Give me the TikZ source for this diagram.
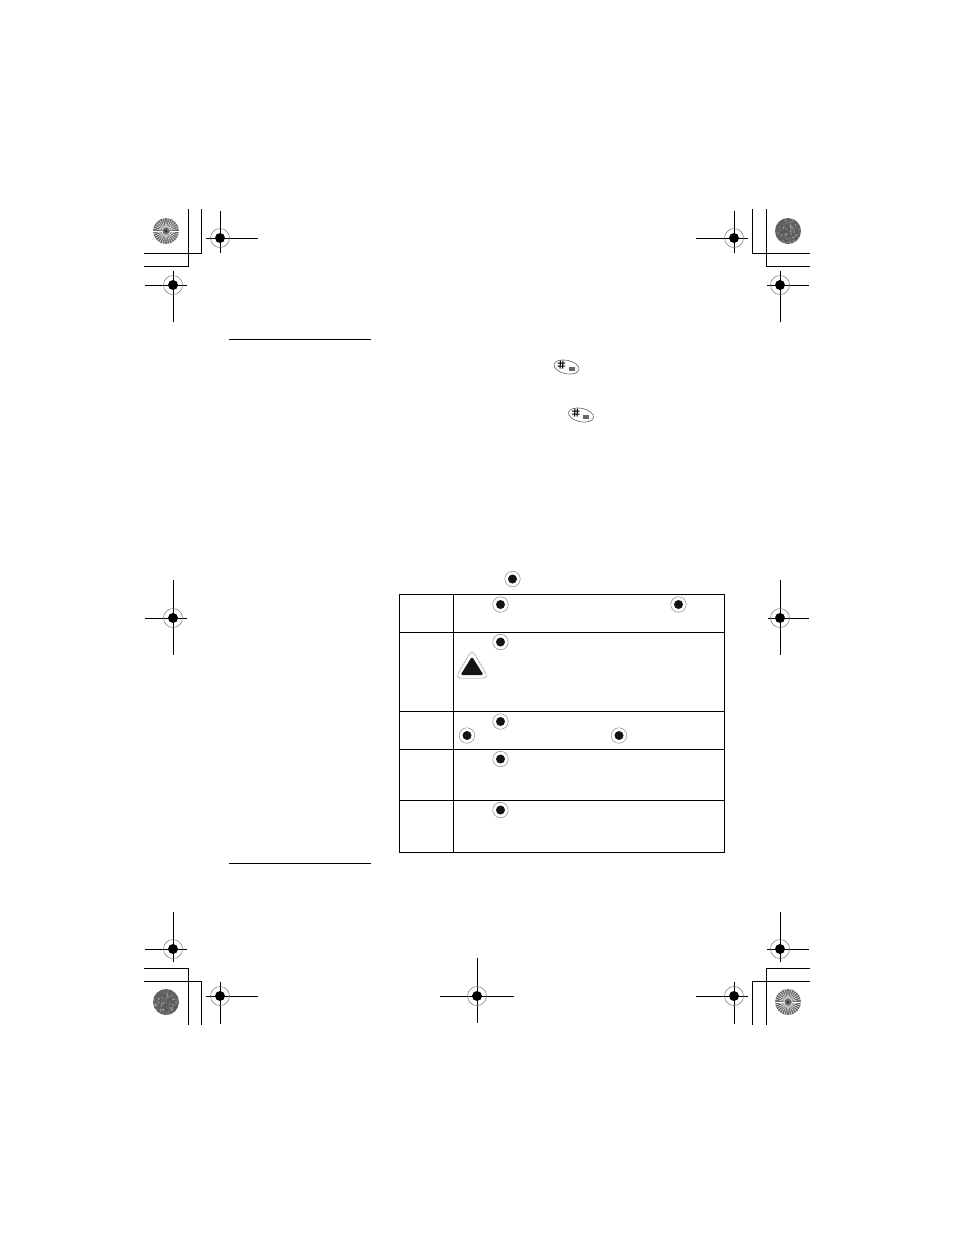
\documentclass[tikz,border=0pt]{standalone}
\usetikzlibrary{shapes.geometric}
\begin{document}
\begin{tikzpicture}[x=1pt,y=-1pt,line width=1pt]
\tikzset{
 rule/.style={line width=1pt,black},
 tbl/.style={line width=1pt,black},
 pic1/.style={line width=1pt,black}}
\pgfmathsetseed{7}
\newcommand{\regmark}[7]{% cx cy x0 x1 y0 y1 name
 \draw[line width=0.9pt] (#3,#2) -- (#4,#2) (#1,#5) -- (#1,#6);
 \node[circle,draw=black!55,line width=0.5pt,minimum size=19pt,inner sep=0pt] (#7) at (#1,#2) {};
 \fill[black] (#1,#2) circle (5pt);
}
\newcommand{\spoked}[3]{% cx cy name
 \node[circle,fill=black!58,minimum size=26pt,inner sep=0pt] (#3) at (#1,#2) {};
 \foreach \a in {0,12,...,348}{\draw[white,line width=0.4pt] (#1,#2) ++(\a:3.5) -- ++(\a:9.5);}
 \fill[black!80] (#1,#2) circle (1.5pt);
}
\newcommand{\darkdisc}[3]{%
 \node[circle,fill=black!62,minimum size=26pt,inner sep=0pt] (#3) at (#1,#2) {};
 \foreach \i in {1,...,90}{%
  \pgfmathsetmacro{\ra}{360*rnd}\pgfmathsetmacro{\rb}{12*sqrt(rnd)}\pgfmathsetmacro{\rc}{int(30+45*rnd)}%
  \fill[black!\rc] (#1,#2) ++(\ra:\rb) circle (0.8pt);}
}
\newcommand{\keyc}[3]{%
 \node[circle,draw=black!45,line width=0.5pt,minimum size=15.5pt,inner sep=0pt] (#3) at (#1,#2) {};
 \fill[black!92] (#1,#2) circle (4.5pt);
}
\newcommand{\hashkey}[3]{%
 \node[ellipse,draw=black!70,line width=0.5pt,minimum width=25.5pt,minimum height=13.5pt,inner sep=0pt,rotate=-12] (#3) at (#1,#2) {};
 \draw[line width=1pt] (#1-6,#2-6.5) -- (#1-6.5,#2+1.5) (#1-3.5,#2-6.5) -- (#1-4,#2+1.5)
   (#1-9,#2-3.8) -- (#1-1.5,#2-3.8) (#1-9,#2-1) -- (#1-1.5,#2-1);
 \fill[black!60] (#1+2,#2+0.2) rectangle (#1+8,#2+4.4);
}
\useasboundingbox (0,0) rectangle (954,1235);
\fill[white] (0,0) rectangle (954,1235);
% crop lines
\draw[pic1] (188,209) -- (188,266) -- (144,266);
\draw[pic1] (201,209) -- (201,253) -- (144,253);
\draw[pic1] (752,209) -- (752,253) -- (810,253);
\draw[pic1] (766,209) -- (766,266) -- (810,266);
\draw[pic1] (144,968) -- (188,968) -- (188,1025);
\draw[pic1] (144,981) -- (201,981) -- (201,1025);
\draw[pic1] (810,968) -- (766,968) -- (766,1025);
\draw[pic1] (810,981) -- (752,981) -- (752,1025);
% discs
\spoked{166}{231}{d1}
\darkdisc{788}{231}{d2}
\darkdisc{166}{1002}{d3}
\spoked{788}{1002}{d4}
% registration marks
\regmark{220}{238}{206}{258}{211}{253}{r1}
\regmark{173}{285}{145}{187}{271}{322}{r2}
\regmark{734}{238}{696}{748}{211}{253}{r3}
\regmark{780}{285}{767}{809}{271}{322}{r4}
\regmark{173}{618}{145}{187}{580}{655}{r5}
\regmark{780}{618}{768}{809}{580}{655}{r6}
\regmark{173}{949}{145}{187}{912}{962}{r7}
\regmark{780}{949}{767}{809}{912}{962}{r8}
\regmark{220}{996}{206}{258}{982}{1024}{r9}
\regmark{477}{996}{440}{514}{958}{1023}{r10}
\regmark{734}{996}{696}{748}{982}{1024}{r11}
% rules
\draw[rule] (229,339) -- (371,339);
\draw[rule] (229,863) -- (371,863);
% hash keys
\hashkey{566.5}{367}{h1}
\hashkey{581}{415}{h2}
% table
\draw[tbl] (399.5,594.5) rectangle (724.5,852.5);
\draw[tbl] (453.5,594.5) -- (453.5,852.5);
\foreach \yy in {632.5,711.5,749.5,800.5}{\draw[tbl] (399.5,\yy) -- (724.5,\yy);}
% keys
\keyc{512.5}{579}{k1}
\keyc{500.5}{604.5}{k2}
\keyc{678.5}{604.5}{k3}
\keyc{500.5}{642}{k4}
\keyc{500.5}{721.5}{k5}
\keyc{467}{735.5}{k6}
\keyc{619}{735.5}{k7}
\keyc{500.5}{759}{k8}
\keyc{500.5}{810}{k9}
% warning triangle
\draw[black!40,line width=0.5pt,rounded corners=5pt,fill=white] (472,649.5) -- (488.5,678) -- (455.5,678) -- cycle;
\fill[black!92,rounded corners=1.5pt] (472,656.5) -- (483.5,675) -- (460.5,675) -- cycle;
\end{tikzpicture}
\end{document}
